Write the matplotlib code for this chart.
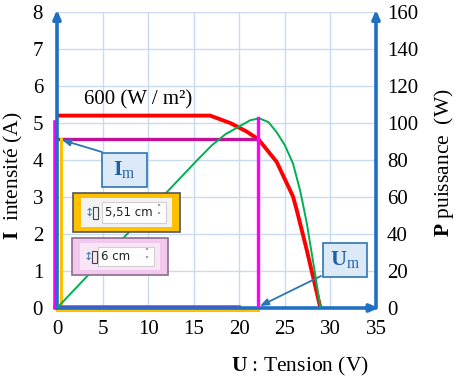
import matplotlib
matplotlib.use("Agg")
import matplotlib.pyplot as plt
import matplotlib.transforms as mtransforms
from matplotlib.patches import Rectangle

# ---- data ----
U_courant = [0, 16.8, 19.0, 20.8, 22.1, 24.1, 25.9, 26.3, 27.4, 28.9]
I_courant = [5.2, 5.2, 5.0, 4.77, 4.56, 3.95, 3.01, 2.65, 1.57, 0.0]
U_puiss = [0, 15.3, 17.0, 18.5, 20.1, 21.2, 22.2, 23.2, 24.1, 25.0, 25.9, 26.7, 27.4, 28.3, 28.9]
P_puiss = [0, 79.5, 88.0, 94.0, 98.4, 101.5, 102.5, 100.5, 95.0, 88.0, 78.0, 63.0, 46.0, 19.0, 0.0]
Um, Im, Pm = 22.1, 4.56, 102.5
x_ticks = [0, 5, 10, 15, 20, 25, 30, 35]
i_ticks = [0, 1, 2, 3, 4, 5, 6, 7, 8]
p_ticks = [0, 20, 40, 60, 80, 100, 120, 140, 160]
irradiance = "600 (W / m²)"

W, H = 458, 383
plt.rcParams['font.family'] = ['Liberation Serif', 'DejaVu Serif']
plt.rcParams['mathtext.fontset'] = 'custom'
plt.rcParams['mathtext.rm'] = 'Liberation Serif'
plt.rcParams['mathtext.bf'] = 'Liberation Serif:bold'
plt.rcParams['mathtext.it'] = 'Liberation Serif:italic'

fig = plt.figure(figsize=(W / 100, H / 100), dpi=100)
fig.patch.set_facecolor('white')
L, R, T, B = 57, 376, 12, 308
ax = fig.add_axes([L / W, 1 - B / H, (R - L) / W, (B - T) / H])
pix = mtransforms.Affine2D().scale(1 / W, -1 / H).translate(0, 1) + fig.transFigure

BLUE = '#1f70c1'
GRID = '#c8dbef'

ax.set_xlim(0, 35)
ax.set_ylim(0, 8)
ax.set_xticks(x_ticks)
ax.set_yticks(i_ticks)
ax.grid(True, color=GRID, lw=1)
ax.set_axisbelow(True)
for s in ax.spines.values():
    s.set_visible(False)
ax.tick_params(length=0, labelsize=15)
ax.tick_params(axis='y', pad=10)
ax.tick_params(axis='x', pad=9)

ax2 = ax.twinx()
ax2.set_ylim(0, 160)
ax2.set_yticks(p_ticks)
for s in ax2.spines.values():
    s.set_visible(False)
ax2.tick_params(length=0, labelsize=15, pad=8)

# curves
ax.plot(U_courant, I_courant, color='#ff0000', lw=2.8, zorder=5, solid_capstyle='butt')
ax2.plot(U_puiss, P_puiss, color='#00b050', lw=1.4, zorder=4)

# guide lines
ax.plot([0, Um], [Im, Im], color='#c0109a', lw=2.4, zorder=6)
ax2.plot([Um, Um], [0, Pm], color='#ff00ff', lw=2.4, zorder=6)
ax.plot([-0.25, -0.25], [0, 5.03], color='#ff00ff', lw=2.6, zorder=7, clip_on=False)
ax.plot([-0.25, 20.0], [0.03, 0.03], color='#ff00ff', lw=2.6, zorder=7, clip_on=False)
ax.plot([0.4, 0.4], [-0.06, Im], color='#ffc000', lw=2.2, zorder=6, clip_on=False)
ax.plot([0, Um], [-0.06, -0.06], color='#ffc000', lw=2.2, zorder=6, clip_on=False)

# axes arrows
arrow_kw = dict(arrowstyle='-|>,head_length=0.5,head_width=0.22', color=BLUE, lw=2.6, shrinkA=0, shrinkB=0)
ax.annotate('', xy=(0, 8.06), xytext=(0, 0), xycoords='data', arrowprops=arrow_kw, annotation_clip=False, zorder=8)
ax.annotate('', xy=(35, 8.06), xytext=(35, 0), xycoords='data', arrowprops=arrow_kw, annotation_clip=False, zorder=8)
ax.annotate('', xy=(35.3, 0), xytext=(0, 0), xycoords='data', arrowprops=arrow_kw, annotation_clip=False, zorder=8)

ax.text(138, 100, irradiance, transform=pix, fontsize=15, ha='center', va='center')

# Im / Um callouts
def callout(x0, y0, x1, y1, label):
    fig.patches.append(Rectangle((x0, y1), x1 - x0, y0 - y1, transform=pix,
                                 facecolor='#dce9f6', edgecolor='#2e75b6', lw=1.2, zorder=10))
    fig.text((x0 + x1) / 2, (y0 + y1) / 2, label, transform=pix, ha='center', va='center',
             fontsize=16, color='#1f5fa6', zorder=11)

callout(102, 153, 147, 187, r'$\mathbf{I}_\mathrm{m}$')
callout(323, 243, 367, 277, r'$\mathbf{U}_\mathrm{m}$')
small_arrow = dict(arrowstyle='-|>,head_length=0.5,head_width=0.2', color='#2e75b6', lw=1.3, shrinkA=0, shrinkB=0)
ax.annotate('', xy=(62, 140), xytext=(102, 152), xycoords=pix, textcoords=pix,
            arrowprops=small_arrow, annotation_clip=False, zorder=9)
ax.annotate('', xy=(260, 306), xytext=(321, 276), xycoords=pix, textcoords=pix,
            arrowprops=small_arrow, annotation_clip=False, zorder=9)

# spin boxes
def rect_pix(x0, y0, x1, y1, **kw):
    # x0<x1, y0<y1 in pixel coords (y from top)
    fig.patches.append(Rectangle((x0, y1), x1 - x0, y0 - y1, transform=pix, **kw))

def spinbox(ox0, oy0, ox1, oy1, fill, edge, inner, text, field_dx):
    rect_pix(ox0, oy0, ox1, oy1, facecolor=fill, edgecolor=edge, lw=1.2, zorder=10)
    ix0, iy0, ix1, iy1 = ox0 + 8, oy0 + 5, ox1 - 8, oy1 - 5
    rect_pix(ix0, iy0, ix1, iy1, facecolor=inner, edgecolor='none', zorder=11)
    fx0 = ix0 + field_dx
    rect_pix(fx0, iy0 + 4, ix1 - 6, iy1 - 4, facecolor='#fdfdfd', edgecolor='#d0d0d0', lw=0.8, zorder=12)
    cy = (oy0 + oy1) / 2
    fig.text(ix0 + 8, cy, '↕', transform=pix, ha='center', va='center', fontsize=8,
             color='#2e75b6', family='DejaVu Sans', zorder=13)
    rect_pix(ix0 + 12, cy - 6, ix0 + 17, cy + 6, facecolor='none', edgecolor='#444444', lw=0.8, zorder=13)
    fig.text(fx0 + 3, cy, text, transform=pix, ha='left', va='center', fontsize=8.5,
             color='#222222', family='DejaVu Sans', zorder=13)
    fig.text(ix1 - 14, cy - 4, '˄', transform=pix, ha='center', va='center', fontsize=6,
             color='#444444', family='DejaVu Sans', zorder=13)
    fig.text(ix1 - 14, cy + 4, '˅', transform=pix, ha='center', va='center', fontsize=6,
             color='#444444', family='DejaVu Sans', zorder=13)

spinbox(73, 193, 180, 232, '#ffc000', '#555555', '#f2f2f2', '5,51 cm', 21)
spinbox(72, 238, 168, 275, '#f3c8ef', '#8a6d8a', '#f8e6f6', '6 cm', 18)

# axis titles
fig.text(13, 176, r'$\mathbf{I}$  intensité (A)', transform=pix, rotation=90,
         ha='center', va='center', fontsize=15.5)
fig.text(444, 163, r'$\mathbf{P}$ puissance  (W)', transform=pix, rotation=90,
         ha='center', va='center', fontsize=15.5)
fig.text(300, 366, r'$\mathbf{U}$ : Tension (V)', transform=pix,
         ha='center', va='center', fontsize=15.5)

fig.savefig('out.png', dpi=100)
